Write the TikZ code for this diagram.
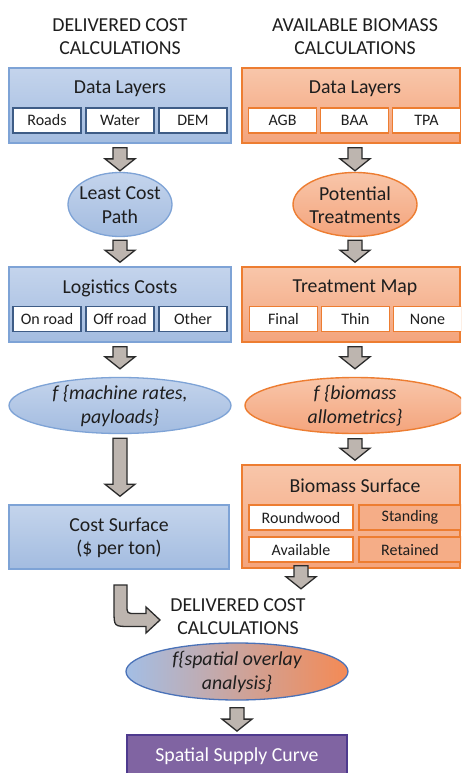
\documentclass[tikz,border=0pt]{standalone}
\usepackage{fontspec}
\setmainfont{Carlito}
\usetikzlibrary{calc,shapes.geometric}
\definecolor{bluebdr}{HTML}{7EA3D6}
\definecolor{bluetop}{HTML}{C4D4EC}
\definecolor{bluebot}{HTML}{A3BCE0}
\definecolor{subblue}{HTML}{3E5C86}
\definecolor{orgbdr}{HTML}{ED7D31}
\definecolor{orgtop}{HTML}{F8C6AA}
\definecolor{orgbot}{HTML}{F4A47C}
\definecolor{orgsub}{HTML}{F5AD87}
\definecolor{arrfill}{HTML}{BDB5AF}
\definecolor{arrbdr}{HTML}{2B2B2B}
\definecolor{purp}{HTML}{8064A2}
\definecolor{purpbdr}{HTML}{4E3A8E}
\definecolor{txt}{HTML}{1E1E1E}
\definecolor{gradblue}{HTML}{A3BEE5}
\definecolor{gradorg}{HTML}{F48A55}
\definecolor{ellbdr}{HTML}{4A72B8}
\newcommand{\barrow}[2]{%
  \draw[blockarr] let \p1=#1, \p2=#2 in
    (\x1-7pt,\y1) -- (\x1+7pt,\y1) -- (\x1+7pt,\y2+12pt) -- (\x1+15pt,\y2+12pt)
    -- (\x1,\y2) -- (\x1-15pt,\y2+12pt) -- (\x1-7pt,\y2+12pt) -- cycle;}
\begin{document}
\begin{tikzpicture}[x=1pt,y=-1pt,
  every node/.style={text=txt},
  bigfont/.style={font=\fontsize{19.8}{23.5}\selectfont},
  subfont/.style={font=\fontsize{16}{18}\selectfont},
  titletext/.style={bigfont, align=center, inner sep=0pt},
  bluebox/.style={rectangle, draw=bluebdr, line width=1.5pt, top color=bluetop, bottom color=bluebot, inner sep=0pt},
  orgbox/.style={rectangle, draw=orgbdr, line width=1.6pt, top color=orgtop, bottom color=orgbot, inner sep=0pt},
  subL/.style={rectangle, draw=subblue, line width=1.3pt, fill=white, minimum height=25pt, inner sep=0pt, subfont},
  subR/.style={rectangle, draw=orgbdr, line width=1.6pt, fill=white, minimum height=25pt, inner sep=0pt, subfont},
  subRo/.style={subR, fill=orgsub},
  blueell/.style={ellipse, draw=bluebdr, line width=1.3pt, top color=bluetop, bottom color=bluebot, inner sep=0pt},
  orgell/.style={ellipse, draw=orgbdr, line width=1.4pt, top color=orgtop, bottom color=orgbot, inner sep=0pt},
  blockarr/.style={draw=arrbdr, fill=arrfill, line width=1.3pt, line join=miter},
]
\useasboundingbox (0,0) rectangle (461,773);
\fill[white] (0,0) rectangle (461,773);
\clip (0,0) rectangle (461,773);

% titles
\node[titletext] (t1) at (120,36.5) {DELIVERED COST\\CALCULATIONS};
\node[titletext] (t2) at (355,36.5) {AVAILABLE BIOMASS\\CALCULATIONS};

% ---- left column ----
\node[bluebox, minimum width=222pt, minimum height=75pt] (dlL) at (120,105.5) {};
\node[bigfont, inner sep=0pt] (dlLt) at (120,89) {Data Layers};
\node[subL, minimum width=68pt] (roads) at (47,120.5) {Roads};
\node[subL, minimum width=68pt] (water) at (120,120.5) {Water};
\node[subL, minimum width=68pt] (dem) at (193,120.5) {DEM};

\node[blueell, minimum width=104pt, minimum height=64pt] (lcp) at (120,204.5) {};
\node[titletext] (lcpt) at (120,205) {Least Cost\\Path};

\node[bluebox, minimum width=222pt, minimum height=75pt] (lcL) at (120,304.5) {};
\node[bigfont, inner sep=0pt] (lcLt) at (120,288) {Logistics Costs};
\node[subL, minimum width=68pt] (onroad) at (47,319) {On road};
\node[subL, minimum width=68pt] (offroad) at (120,319) {Off road};
\node[subL, minimum width=68pt] (other) at (193,319) {Other};

\node[blueell, minimum width=222pt, minimum height=56pt] (fmL) at (120,405.5) {};
\node[titletext, font=\fontsize{19.8}{24}\selectfont\itshape] (fmLt) at (120,406) {f \{machine rates,\\payloads\}};

\node[bluebox, minimum width=220pt, minimum height=64pt] (csL) at (119,537) {};
\node[titletext] (csLt) at (119,538) {Cost Surface\\(\$ per ton)};

% ---- right column ----
\node[orgbox, minimum width=218pt, minimum height=75pt] (dlR) at (351,105.5) {};
\node[bigfont, inner sep=0pt] (dlRt) at (355,89) {Data Layers};
\node[subR, minimum width=68pt] (agb) at (282.5,120.5) {AGB};
\node[subR, minimum width=68pt] (baa) at (354.5,120.5) {BAA};
\node[subR, minimum width=68pt] (tpa) at (426.5,120.5) {TPA};

\node[orgell, minimum width=124pt, minimum height=64pt] (pt) at (355,204.5) {};
\node[titletext] (ptt) at (355,205) {Potential\\Treatments};

\node[orgbox, minimum width=218pt, minimum height=75pt] (tmR) at (351,304.5) {};
\node[bigfont, inner sep=0pt] (tmRt) at (355,288) {Treatment Map};
\node[subR, minimum width=68pt] (final) at (283.5,319) {Final};
\node[subR, minimum width=68pt] (thin) at (355.5,319) {Thin};
\node[subR, minimum width=68pt] (none) at (427.5,319) {None};

\node[orgell, minimum width=220pt, minimum height=56pt] (fbR) at (355,405.5) {};
\node[titletext, font=\fontsize{19.8}{24}\selectfont\itshape] (fbRt) at (355,406) {f \{biomass\\allometrics\}};

\node[orgbox, minimum width=218pt, minimum height=103pt] (bsR) at (351,516.5) {};
\node[bigfont, inner sep=0pt] (bsRt) at (355,486) {Biomass Surface};
\node[subR, minimum width=104pt] (rw) at (301,517.5) {Roundwood};
\node[subRo, minimum width=102pt] (st) at (410,517.5) {Standing};
\node[subR, minimum width=104pt] (av) at (301,549.5) {Available};
\node[subRo, minimum width=102pt] (re) at (410,549.5) {Retained};

% ---- bottom ----
\node[titletext] (t3) at (238,616.5) {DELIVERED COST\\CALCULATIONS};
\node[ellipse, draw=ellbdr, line width=1.3pt, shading=axis, left color=gradblue, right color=gradorg, inner sep=0pt, minimum width=222pt, minimum height=57pt] (soa) at (237,671.5) {};
\node[titletext, font=\fontsize{19.8}{24}\selectfont\itshape] (soat) at (237,672) {f\{spatial overlay\\analysis\}};
\node[rectangle, draw=purpbdr, line width=1.8pt, fill=purp, minimum width=220pt, minimum height=46pt, inner sep=0pt] (ssc) at (237,758) {};
\node[bigfont, inner sep=0pt, text=white] (ssct) at (237,756) {Spatial Supply Curve};

% ---- block arrows ----
\barrow{($(dlL.south)+(0,4)$)}{($(lcp.north)+(0,-1)$)}
\barrow{($(lcp.south)+(0,3)$)}{($(lcL.north)+(0,-4)$)}
\barrow{($(lcL.south)+(0,4)$)}{($(fmL.north)+(0,-8)$)}
\barrow{($(fmL.south)+(0,4)$)}{($(csL.north)+(0,-8)$)}
\barrow{($(dlR.south -| pt.north)+(0,4)$)}{($(pt.north)+(0,-1)$)}
\barrow{($(pt.south)+(0,3)$)}{($(tmR.north -| pt.south)+(0,-4)$)}
\barrow{($(tmR.south -| fbR.north)+(0,4)$)}{($(fbR.north)+(0,-8)$)}
\barrow{($(fbR.south)+(0,4.5)$)}{($(bsR.north -| fbR.south)+(0,-4)$)}
\barrow{($(bsR.south -| rw.south)+(0,-3)$)}{($(bsR.south -| rw.south)+(0,20)$)}
\barrow{($(soa.south)+(0,7)$)}{($(ssc.north)+(0,-3)$)}

% bent arrow from cost surface to delivered cost title
\draw[blockarr] (114,585) -- (127,585) -- (127,605) .. controls (127,613.5) .. (135.5,613.5)
  -- (146,613.5) -- (146,607) -- (160,620) -- (146,633) -- (146,626.5)
  -- (130,626.5) .. controls (114,626.5) .. (114,610.5) -- cycle;
\end{tikzpicture}
\end{document}
